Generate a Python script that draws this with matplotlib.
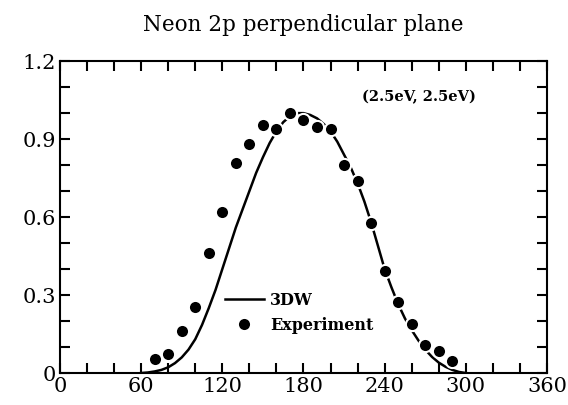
import matplotlib
matplotlib.use("Agg")
import matplotlib.pyplot as plt
from matplotlib.ticker import MultipleLocator

# === Dane ===
# 3DW theory curve
theory_angle = [60, 65, 70, 75, 80, 85, 90, 95, 100, 105, 110, 115, 120, 125, 130,
                135, 140, 145, 150, 155, 160, 165, 170, 175, 180, 185, 190, 195,
                200, 205, 210, 215, 220, 225, 230, 235, 240, 245, 250, 255, 260,
                265, 270, 275, 280, 285, 290, 295, 300]
theory_val = [0.0, 0.002, 0.006, 0.012, 0.022, 0.038, 0.06, 0.09, 0.13, 0.185, 0.25,
              0.32, 0.40, 0.48, 0.56, 0.63, 0.70, 0.77, 0.83, 0.885, 0.93, 0.965,
              0.988, 1.0, 1.0, 0.993, 0.98, 0.958, 0.93, 0.89, 0.84, 0.79, 0.73,
              0.66, 0.58, 0.49, 0.40, 0.33, 0.265, 0.21, 0.165, 0.125, 0.09, 0.062,
              0.04, 0.024, 0.012, 0.004, 0.0]

# Experiment
exp_angle = [70, 80, 90, 100, 110, 120, 130, 140, 150, 160, 170, 180, 190, 200,
             210, 220, 230, 240, 250, 260, 270, 280, 290]
exp_val = [0.054, 0.074, 0.16, 0.253, 0.46, 0.62, 0.81, 0.88, 0.955, 0.94, 1.0,
           0.972, 0.947, 0.938, 0.80, 0.74, 0.577, 0.392, 0.274, 0.19, 0.106,
           0.083, 0.047]

x_ticks = [0, 60, 120, 180, 240, 300, 360]
y_ticks = [0, 0.3, 0.6, 0.9, 1.2]
y_tick_labels = ["0", "0.3", "0.6", "0.9", "1.2"]

# === Wykres ===
plt.rcParams['font.family'] = ['DejaVu Serif']
fig = plt.figure(figsize=(5.68, 4.05), dpi=100)
ax = fig.add_axes([0.1056, 0.079, 0.8574, 0.770])

ax.plot(theory_angle, theory_val, color='black', lw=1.8, label='3DW', zorder=2)
ax.plot(exp_angle, exp_val, 'o', color='black', markersize=9.5,
        markeredgecolor='white', markeredgewidth=1.5, label='Experiment', zorder=3)

ax.set_xlim(0, 360)
ax.set_ylim(0, 1.2)
ax.set_xticks(x_ticks)
ax.set_yticks(y_ticks)
ax.set_yticklabels(y_tick_labels)
ax.xaxis.set_minor_locator(MultipleLocator(20))
ax.yaxis.set_minor_locator(MultipleLocator(0.1))
ax.tick_params(which='both', direction='in', top=True, right=True,
               length=7, width=1.5, labelsize=15, pad=3)
for s in ax.spines.values():
    s.set_linewidth(1.5)

ax.set_title("Neon 2p perpendicular plane", fontsize=15.5, pad=22)
ax.text(0.62, 0.885, "(2.5eV, 2.5eV)", transform=ax.transAxes,
        fontsize=10.5, fontweight='bold', va='center')

leg = ax.legend(loc='lower left', bbox_to_anchor=(0.31, 0.08), frameon=False,
                prop={'weight': 'bold', 'size': 11.5}, handlelength=2.4,
                handletextpad=0.4, labelspacing=0.5)

plt.savefig("out.png", dpi=100)
